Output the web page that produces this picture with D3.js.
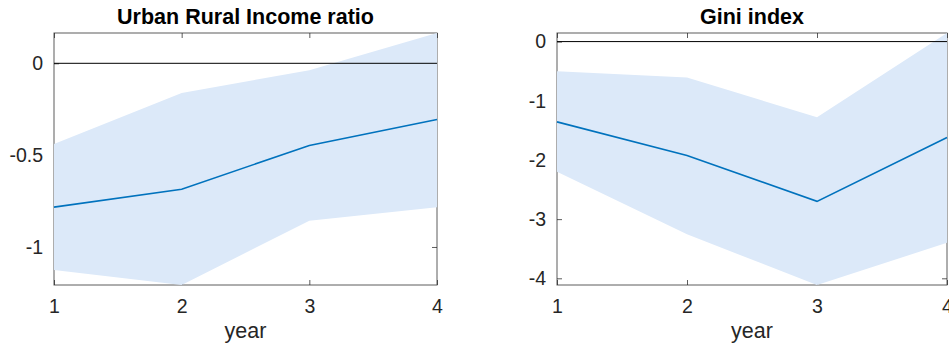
<!DOCTYPE html>
<html>
<head>
<meta charset="utf-8">
<script src="https://cdn.jsdelivr.net/npm/d3@7"></script>
<style>
body { margin: 0; background: #fff; }
text { font-family: "Liberation Sans", Arial, Helvetica, sans-serif; fill: #262626; }
</style>
</head>
<body>
<div id="chart"></div>
<script>
var years = [1, 2, 3, 4];

// Urban Rural Income ratio
var incomeMean = [-0.783, -0.686, -0.447, -0.306];
var incomeUpper = [-0.44, -0.161, -0.038, 0.165];
var incomeLower = [-1.125, -1.207, -0.857, -0.784];
var incomeTicks = [0, -0.5, -1];

// Gini index
var giniMean = [-1.357, -1.924, -2.70, -1.62];
var giniUpper = [-0.50, -0.608, -1.278, 0.145];
var giniLower = [-2.20, -3.257, -4.113, -3.40];
var giniTicks = [0, -1, -2, -3, -4];

var svgWidth = 949;
var svgHeight = 349;

var svg = d3.select("#chart")
    .append("svg")
    .attr("width", svgWidth)
    .attr("height", svgHeight);

function drawPanel(opts) {
    var left = opts.left, top = 33, width = opts.width, height = 252;

    var g = svg.append("g")
        .attr("transform", `translate(${left}, ${top})`);

    var x = d3.scaleLinear().domain([1, 4]).range([0, width]);
    var y = d3.scaleLinear()
        .domain([d3.min(opts.lower), d3.max(opts.upper)])
        .range([height, 0]);

    // axes box and ticks (drawn underneath the data, like MATLAB)
    var axisColor = "#262626";
    g.append("rect")
        .attr("width", width).attr("height", height)
        .attr("fill", "none")
        .attr("stroke", axisColor)
        .attr("stroke-width", 1)
        .attr("opacity", 0.75);

    var bottomAxis = d3.axisBottom(x).tickValues(years).tickSize(-5).tickFormat(d3.format("d")).tickPadding(14);
    var topAxis = d3.axisTop(x).tickValues(years).tickSize(-5).tickFormat("");
    var leftAxis = d3.axisLeft(y).tickValues(opts.ticks).tickSize(-5).tickPadding(11).tickFormat(d => String(d));
    var rightAxis = d3.axisRight(y).tickValues(opts.ticks).tickSize(-5).tickFormat("");

    [[bottomAxis, `translate(0, ${height})`], [topAxis, "translate(0,0)"],
     [leftAxis, "translate(0,0)"], [rightAxis, `translate(${width}, 0)`]].forEach(function(a) {
        var ax = g.append("g").attr("transform", a[1]).call(a[0]);
        ax.attr("font-size", null).attr("font-family", null);
        ax.select(".domain").remove();
        ax.selectAll("line").attr("stroke", axisColor).attr("opacity", 0.75);
        ax.selectAll("text")
            .style("font-size", "19.5px")
            .attr("fill", "#262626");
    });

    // confidence band
    var band = d3.area()
        .x((d, i) => x(years[i]))
        .y0((d, i) => y(opts.lower[i]))
        .y1((d, i) => y(opts.upper[i]));

    g.append("path")
        .datum(years)
        .attr("d", band)
        .attr("fill", "#dce9f9");

    // zero line
    g.append("line")
        .attr("x1", 0).attr("x2", width)
        .attr("y1", y(0)).attr("y2", y(0))
        .attr("stroke", "#000")
        .attr("stroke-width", 1);

    // mean line
    var line = d3.line()
        .x((d, i) => x(years[i]))
        .y(d => y(d));

    g.append("path")
        .datum(opts.mean)
        .attr("d", line)
        .attr("fill", "none")
        .attr("stroke", "#0072bd")
        .attr("stroke-width", 1.6);

    // title
    g.append("text")
        .attr("x", width / 2)
        .attr("y", -9)
        .attr("text-anchor", "middle")
        .style("font-size", "21.5px")
        .style("font-weight", "bold")
        .style("fill", "#000")
        .text(opts.title);

    // x label
    g.append("text")
        .attr("x", width / 2)
        .attr("y", height + 53)
        .attr("text-anchor", "middle")
        .style("font-size", "21.5px")
        .text("year");
}

drawPanel({
    left: 54, width: 383, title: "Urban Rural Income ratio",
    mean: incomeMean, upper: incomeUpper, lower: incomeLower, ticks: incomeTicks
});

drawPanel({
    left: 557, width: 390, title: "Gini index",
    mean: giniMean, upper: giniUpper, lower: giniLower, ticks: giniTicks
});
</script>
</body>
</html>
